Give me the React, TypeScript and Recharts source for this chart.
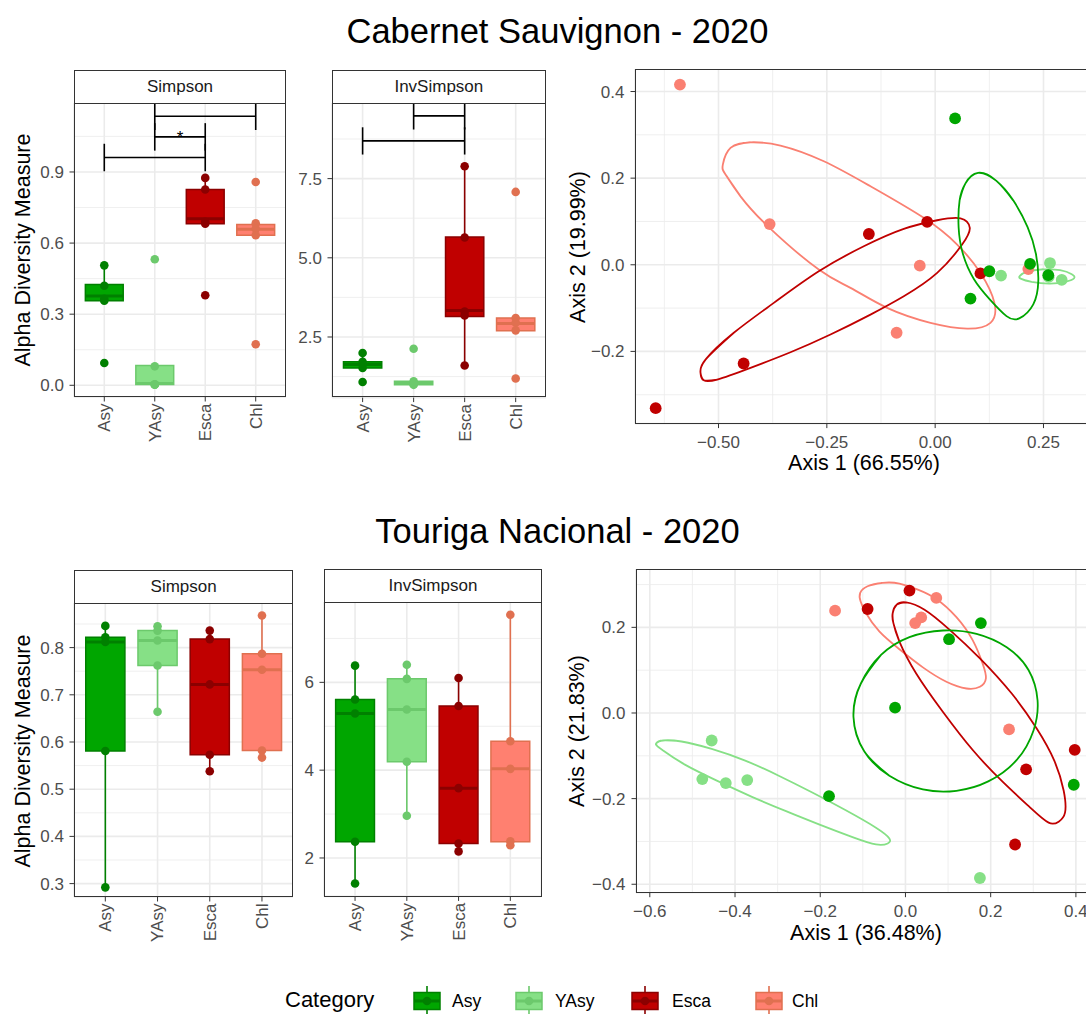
import React from 'react'
import {
  CartesianGrid,
  ComposedChart,
  Line,
  ReferenceArea,
  ReferenceLine,
  Scatter,
  XAxis,
  YAxis,
} from 'recharts'

type Pt = [number, number]

const FONT = '"Liberation Sans", Arial, Helvetica, sans-serif'
const CATS = ['Asy', 'YAsy', 'Esca', 'Chl']
const FILL = ['#00a600', '#86e086', '#c00000', '#ff8070']
const EDGE = ['#008000', '#6cc96c', '#8b0000', '#e07050']
const ORD = ['#00a600', '#86e086', '#c00000', '#fa8072']

// ---- Cabernet Sauvignon 2020, alpha diversity ----
const cabSimpsonPts = [
  [0.506, 0.42, 0.365, 0.357, 0.094],
  [0.532, 0.08, 0.004, 0.003, 0.002],
  [0.875, 0.826, 0.69, 0.682, 0.38],
  [0.858, 0.683, 0.66, 0.633, 0.173],
]
// [lower whisker, q1, median, q3, upper whisker]
const cabSimpsonBox = [
  [0.357, 0.357, 0.377, 0.425, 0.506],
  [0.002, 0.003, 0.008, 0.084, 0.084],
  [0.682, 0.682, 0.703, 0.826, 0.875],
  [0.633, 0.633, 0.658, 0.678, 0.683],
]
// [from, to, height, label]
const cabSimpsonSig: [number, number, number, string][] = [
  [1, 3, 0.961, ''],
  [2, 3, 1.048, '*'],
  [2, 4, 1.135, ''],
]
const cabInvPts = [
  [1.995, 1.72, 1.63, 1.52, 1.08],
  [2.13, 1.1, 1.05, 1.02, 0.99],
  [7.89, 5.64, 3.3, 3.18, 1.6],
  [7.08, 3.1, 2.95, 2.71, 1.19],
]
const cabInvBox = [
  [1.52, 1.52, 1.63, 1.72, 1.995],
  [0.99, 0.99, 1.04, 1.1, 1.1],
  [1.6, 3.15, 3.34, 5.66, 7.89],
  [2.7, 2.7, 2.93, 3.1, 3.1],
]
const cabInvSig: [number, number, number, string][] = [
  [1, 3, 8.69, ''],
  [2, 3, 9.48, ''],
]

// ---- Touriga Nacional 2020, alpha diversity ----
const touSimpsonPts = [
  [0.846, 0.822, 0.812, 0.581, 0.292],
  [0.845, 0.836, 0.815, 0.762, 0.664],
  [0.836, 0.818, 0.722, 0.573, 0.538],
  [0.868, 0.787, 0.753, 0.582, 0.567],
]
const touSimpsonBox = [
  [0.292, 0.581, 0.812, 0.822, 0.846],
  [0.664, 0.762, 0.815, 0.836, 0.845],
  [0.538, 0.573, 0.722, 0.818, 0.836],
  [0.567, 0.582, 0.753, 0.787, 0.868],
]
const touInvPts = [
  [6.38, 5.61, 5.29, 2.37, 1.42],
  [6.4, 6.08, 5.38, 4.19, 2.96],
  [6.1, 5.46, 3.59, 2.33, 2.15],
  [7.54, 4.66, 4.03, 2.38, 2.29],
]
const touInvBox = [
  [1.42, 2.37, 5.29, 5.61, 6.38],
  [2.96, 4.19, 5.38, 6.08, 6.4],
  [2.15, 2.33, 3.59, 5.46, 6.1],
  [2.29, 2.37, 4.03, 4.66, 7.54],
]

// ---- ordination scores (Axis 1, Axis 2) ----
const cabOrdAsy: Pt[] = [[0.046, 0.338], [0.0815, -0.078], [0.125, -0.015], [0.219, 0.002], [0.261, -0.024]]
const cabOrdYAsy: Pt[] = [[0.152, -0.025], [0.265, 0.004], [0.292, -0.035], [0.262, -0.028]]
const cabOrdEsca: Pt[] = [[-0.645, -0.331], [-0.442, -0.228], [-0.153, 0.071], [-0.0185, 0.099], [0.1045, -0.02]]
const cabOrdChl: Pt[] = [[-0.589, 0.416], [-0.382, 0.094], [-0.0355, -0.002], [-0.089, -0.157], [0.215, -0.01]]

const touOrdAsy: Pt[] = [[0.177, 0.21], [0.1023, 0.1723], [-0.0244, 0.0125], [-0.1794, -0.1943], [0.395, -0.1676]]
const touOrdYAsy: Pt[] = [[-0.4548, -0.0642], [-0.4768, -0.1543], [-0.4217, -0.1637], [-0.3714, -0.1567], [0.1747, -0.3854]]
const touOrdEsca: Pt[] = [[-0.0889, 0.2429], [0.0094, 0.2859], [0.2832, -0.1316], [0.3973, -0.0862], [0.2573, -0.3071]]
const touOrdChl: Pt[] = [[-0.1652, 0.2389], [0.0724, 0.2687], [0.037, 0.2233], [0.0228, 0.2099], [0.2431, -0.0384]]

// ---- confidence ellipse outlines ----
const cabEllAsy: Pt[] = [
  [0.0989, 0.2122], [0.1414, 0.1936], [0.1801, 0.1487], [0.2133, 0.0867], [0.2326, 0.0248],
  [0.238, -0.0372], [0.2264, -0.0914], [0.194, -0.1239], [0.1646, -0.1185], [0.126, -0.0798],
  [0.0896, -0.0333], [0.0641, 0.0248], [0.0541, 0.0867], [0.0564, 0.1487], [0.0696, 0.1874],
]
const cabEllYAsy: Pt[] = [
  [0.1955, -0.0256], [0.2148, -0.0155], [0.2496, -0.0108], [0.2883, -0.0124], [0.3153, -0.0217],
  [0.3207, -0.031], [0.3022, -0.0387], [0.2651, -0.0434], [0.2226, -0.0395], [0.1986, -0.0325],
]
const cabEllEsca: Pt[] = [
  [-0.5415, -0.2496], [-0.53, -0.219], [-0.4647, -0.157], [-0.3724, -0.088], [-0.2686, -0.015],
  [-0.1647, 0.0427], [-0.0724, 0.0828], [0.0046, 0.1028], [0.0584, 0.1074], [0.0799, 0.0851],
  [0.0622, 0.0466], [0.0046, -0.0188], [-0.0724, -0.0727], [-0.1493, -0.115], [-0.2416, -0.161],
  [-0.3339, -0.202], [-0.4262, -0.238], [-0.503, -0.265], [-0.534, -0.2666],
]
const cabEllChl: Pt[] = [
  [-0.49, 0.2313], [-0.4723, 0.2698], [-0.4262, 0.2828], [-0.357, 0.2752], [-0.2569, 0.239],
  [-0.1493, 0.1812], [-0.0263, 0.1083], [0.0508, 0.0466], [0.1045, -0.0188], [0.1368, -0.088],
  [0.1276, -0.134], [0.0738, -0.1473], [-0.0108, -0.134], [-0.1108, -0.0995], [-0.1954, -0.0533],
  [-0.2686, -0.011], [-0.3823, 0.0851], [-0.4492, 0.158], [-0.4838, 0.2082],
]

const touEllAsy: Pt[] = [
  [-0.122, -0.0094], [-0.1046, 0.0689], [-0.0574, 0.1355], [0.0094, 0.177], [0.0881, 0.1927],
  [0.1668, 0.1849], [0.2376, 0.1535], [0.2888, 0.1003], [0.31, 0.0298], [0.3006, -0.0407],
  [0.2612, -0.1097], [0.1943, -0.1598], [0.1196, -0.1817], [0.0409, -0.1786], [-0.0378, -0.1465],
  [-0.0968, -0.0893],
]
const touEllYAsy: Pt[] = [
  [-0.5846, -0.0705], [-0.5688, -0.0642], [-0.5256, -0.0666], [-0.4548, -0.0838], [-0.3761, -0.1112],
  [-0.2974, -0.1465], [-0.2187, -0.1857], [-0.14, -0.2272], [-0.0692, -0.2679], [-0.0378, -0.293],
  [-0.0417, -0.3047], [-0.0692, -0.3071], [-0.1243, -0.2899], [-0.203, -0.2601], [-0.2817, -0.2287],
  [-0.3603, -0.1958], [-0.439, -0.1598], [-0.5177, -0.1206], [-0.5688, -0.0877], [-0.583, -0.0768],
]
const touEllEsca: Pt[] = [
  [-0.0299, 0.2334], [-0.0205, 0.253], [0.0016, 0.2585], [0.0448, 0.2413], [0.1039, 0.1943],
  [0.1747, 0.1277], [0.2494, 0.0454], [0.3084, -0.0368], [0.3493, -0.1112], [0.3714, -0.1817],
  [0.3745, -0.2327], [0.3596, -0.2538], [0.336, -0.2562], [0.2927, -0.2209], [0.2297, -0.1622],
  [0.1589, -0.0877], [0.0881, 0.0024], [0.0252, 0.0924], [-0.0142, 0.1669], [-0.0283, 0.2099],
]
const touEllChl: Pt[] = [
  [-0.1062, 0.2805], [-0.0889, 0.2961], [-0.0535, 0.304], [-0.0142, 0.3024], [0.0291, 0.2883],
  [0.0724, 0.2664], [0.1196, 0.224], [0.1574, 0.1708], [0.181, 0.1159], [0.1888, 0.0807],
  [0.1747, 0.0611], [0.1432, 0.0572], [0.096, 0.0729], [0.0409, 0.1065], [-0.0142, 0.1488],
  [-0.0614, 0.1904], [-0.0928, 0.2334], [-0.1054, 0.2609],
]

const rows = (pts: Pt[]) => pts.map(([x, y]) => ({ x, y }))
// wrap the outline round by two read points at each end so the spline joins smoothly
const closed = (pts: Pt[]) => {
  const n = pts.length
  return rows([pts[n - 2], pts[n - 1], ...pts, pts[0], pts[1], pts[2]])
}
const fmt = (d: number) => (v: number) => v.toFixed(d).replace('-', '\u2212')

const TICK = { fill: '#4d4d4d', fontSize: 17, fontFamily: FONT }
const MAJOR = '#ebebeb'

function CatTick(props: any) {
  const { x, y, payload } = props
  return (
    <text
      transform={`translate(${x},${y}) rotate(-90)`}
      textAnchor="end"
      dy="0.35em"
      fill="#4d4d4d"
      fontSize={17}
      fontFamily={FONT}
    >
      {CATS[payload.value - 1]}
    </text>
  )
}

function Frame({ left, top, width, height }: { left: number; top: number; width: number; height: number }) {
  return (
    <div
      style={{
        position: 'absolute', left, top, width, height, boxSizing: 'border-box',
        border: '1px solid #333', pointerEvents: 'none',
      }}
    />
  )
}

function VLabel({ cx, cy, text }: { cx: number; cy: number; text: string }) {
  return (
    <div
      style={{
        position: 'absolute', left: cx - 150, top: cy - 11, width: 300, height: 22,
        lineHeight: '22px', fontSize: 21.5, textAlign: 'center', whiteSpace: 'nowrap',
        transform: 'rotate(-90deg)',
      }}
    >
      {text}
    </div>
  )
}

function HLabel({ cx, top, text, size = 21.5 }: { cx: number; top: number; text: string; size?: number }) {
  return (
    <div
      style={{
        position: 'absolute', left: cx - 300, top, width: 600, lineHeight: 1,
        fontSize: size, textAlign: 'center', whiteSpace: 'nowrap',
      }}
    >
      {text}
    </div>
  )
}

interface BoxPanelProps {
  title: string
  left: number
  top: number
  width: number
  height: number
  domain: [number, number]
  ticks: number[]
  minor: number[]
  digits: number
  pts: number[][]
  box: number[][]
  sig?: [number, number, number, string][]
  tip?: number
}

function BoxPanel(p: BoxPanelProps) {
  const YW = 60
  const XH = 70
  const half = 0.375
  const tip = p.tip ?? 0
  return (
    <>
      <div style={{ position: 'absolute', left: p.left - YW, top: p.top }}>
        <ComposedChart width={YW + p.width} height={p.height + XH} margin={{ top: 0, right: 0, bottom: 0, left: 0 }}>
          <CartesianGrid stroke={MAJOR} strokeWidth={1.6} />
          <CartesianGrid stroke={MAJOR} strokeWidth={0.8} vertical={false} horizontalValues={p.minor} />
          <XAxis
            type="number" dataKey="x" domain={[0.4, 4.6]} ticks={[1, 2, 3, 4]} allowDataOverflow
            height={XH} axisLine={false} tickSize={4.5} tickLine={{ stroke: '#333' }}
            tick={<CatTick />} interval={0}
          />
          <YAxis
            type="number" dataKey="y" domain={p.domain} ticks={p.ticks} allowDataOverflow
            width={YW} axisLine={false} tickSize={4.5} tickMargin={5.5} tickLine={{ stroke: '#333' }}
            tick={TICK} tickFormatter={fmt(p.digits)} interval={0}
          />
          {p.box.map(([, q1, , q3], i) => (
            <ReferenceArea
              key={'box' + i} x1={i + 1 - half} x2={i + 1 + half} y1={q1} y2={q3}
              fill={FILL[i]} fillOpacity={1} stroke={EDGE[i]} strokeWidth={1.5} ifOverflow="visible"
            />
          ))}
          {p.box.flatMap(([lo, q1, med, q3, hi], i) => [
            hi > q3 && (
              <ReferenceLine key={'hi' + i} segment={[{ x: i + 1, y: q3 }, { x: i + 1, y: hi }]} stroke={EDGE[i]} strokeWidth={1.6} ifOverflow="visible" />
            ),
            lo < q1 && (
              <ReferenceLine key={'lo' + i} segment={[{ x: i + 1, y: lo }, { x: i + 1, y: q1 }]} stroke={EDGE[i]} strokeWidth={1.6} ifOverflow="visible" />
            ),
            <ReferenceLine key={'med' + i} segment={[{ x: i + 1 - half, y: med }, { x: i + 1 + half, y: med }]} stroke={EDGE[i]} strokeWidth={3} ifOverflow="visible" />,
          ])}
          {(p.sig ?? []).flatMap(([a, b, y, lab], k) => [
            <ReferenceLine
              key={'sh' + k} segment={[{ x: a, y }, { x: b, y }]} stroke="#000" strokeWidth={1.6} ifOverflow="visible"
              label={lab ? { value: lab, position: 'center', fill: '#000', fontSize: 17, fontFamily: FONT } : undefined}
            />,
            <ReferenceLine key={'sa' + k} segment={[{ x: a, y: y - tip }, { x: a, y: y + tip }]} stroke="#000" strokeWidth={1.6} ifOverflow="visible" />,
            <ReferenceLine key={'sb' + k} segment={[{ x: b, y: y - tip }, { x: b, y: y + tip }]} stroke="#000" strokeWidth={1.6} ifOverflow="visible" />,
          ])}
          {p.pts.map((vals, i) => (
            <Scatter
              key={'pt' + i}
              data={vals.map((v) => ({ x: i + 1, y: v }))}
              isAnimationActive={false}
              shape={(s: any) => <circle cx={s.cx} cy={s.cy} r={4.3} fill={EDGE[i]} />}
            />
          ))}
        </ComposedChart>
      </div>
      <Frame left={p.left} top={p.top} width={p.width} height={p.height} />
      <div
        style={{
          position: 'absolute', left: p.left, top: p.top - 33, width: p.width, height: 34,
          boxSizing: 'border-box', border: '1px solid #333', background: '#fff',
          fontSize: 17, color: '#1a1a1a', display: 'flex', alignItems: 'center', justifyContent: 'center',
        }}
      >
        {p.title}
      </div>
    </>
  )
}

interface OrdPanelProps {
  left: number
  top: number
  width: number
  height: number
  xDomain: [number, number]
  yDomain: [number, number]
  xTicks: number[]
  yTicks: number[]
  xMinor: number[]
  yMinor: number[]
  xDigits: number
  pts: Pt[][]
  ells: Pt[][]
}

function OrdPanel(p: OrdPanelProps) {
  const YW = 55
  const XH = 40
  const order = [3, 2, 1, 0]
  return (
    <>
      <div style={{ position: 'absolute', left: p.left - YW, top: p.top }}>
        <ComposedChart width={YW + p.width} height={p.height + XH} margin={{ top: 0, right: 0, bottom: 0, left: 0 }}>
          <CartesianGrid stroke={MAJOR} strokeWidth={1.6} />
          <CartesianGrid stroke={MAJOR} strokeWidth={0.8} horizontalValues={p.yMinor} verticalValues={p.xMinor} />
          <XAxis
            type="number" dataKey="x" domain={p.xDomain} ticks={p.xTicks} allowDataOverflow
            height={XH} axisLine={false} tickSize={4.5} tickMargin={7.5} tickLine={{ stroke: '#333' }}
            tick={TICK} tickFormatter={fmt(p.xDigits)} interval={0}
          />
          <YAxis
            type="number" dataKey="y" domain={p.yDomain} ticks={p.yTicks} allowDataOverflow
            width={YW} axisLine={false} tickSize={4.5} tickMargin={6} tickLine={{ stroke: '#333' }}
            tick={TICK} tickFormatter={fmt(1)} interval={0}
          />
          {order.map((i) => (
            <Scatter
              key={'pt' + i}
              data={rows(p.pts[i])}
              isAnimationActive={false}
              shape={(s: any) => <circle cx={s.cx} cy={s.cy} r={5.9} fill={ORD[i]} />}
            />
          ))}
          {order.map((i) => (
            <Line
              key={'ell' + i}
              data={closed(p.ells[i])}
              dataKey="y"
              type="natural"
              stroke={ORD[i]}
              strokeWidth={1.8}
              dot={false}
              activeDot={false}
              isAnimationActive={false}
            />
          ))}
        </ComposedChart>
      </div>
      <Frame left={p.left} top={p.top} width={p.width} height={p.height} />
    </>
  )
}

function LegendKey({ left, i }: { left: number; i: number }) {
  return (
    <svg style={{ position: 'absolute', left, top: 986 }} width={28} height={28}>
      <line x1={14} x2={14} y1={0} y2={28} stroke={EDGE[i]} strokeWidth={1.6} />
      <rect x={1} y={6.5} width={26} height={17} fill={FILL[i]} stroke={EDGE[i]} strokeWidth={1.5} />
      <line x1={1} x2={27} y1={15} y2={15} stroke={EDGE[i]} strokeWidth={3} />
      <circle cx={14} cy={15} r={4.3} fill={EDGE[i]} />
    </svg>
  )
}

export default function App() {
  const keyLeft = [413, 515, 631, 755]
  const labelLeft = [452, 555, 672, 792]
  return (
    <div
      style={{
        position: 'absolute', left: 0, top: 0, width: 1086, height: 1014, overflow: 'hidden',
        background: '#fff', fontFamily: FONT, color: '#000',
      }}
    >
      <HLabel cx={557.5} top={13.5} size={34.5} text="Cabernet Sauvignon - 2020" />
      <HLabel cx={557.5} top={513.5} size={34.5} text="Touriga Nacional - 2020" />

      <BoxPanel
        title="Simpson" left={74} top={102.7} width={212} height={294}
        domain={[-0.0494, 1.191]} ticks={[0, 0.3, 0.6, 0.9]} minor={[0.15, 0.45, 0.75, 1.05]} digits={1}
        pts={cabSimpsonPts} box={cabSimpsonBox} sig={cabSimpsonSig} tip={0.058}
      />
      <BoxPanel
        title="InvSimpson" left={331.7} top={102.7} width={214.3} height={294.6}
        domain={[0.587, 9.887]} ticks={[2.5, 5, 7.5]} minor={[1.25, 3.75, 6.25, 8.75]} digits={1}
        pts={cabInvPts} box={cabInvBox} sig={cabInvSig} tip={0.43}
      />
      <OrdPanel
        left={634.5} top={69.4} width={460.5} height={354.6}
        xDomain={[-0.6927, 0.37]} yDomain={[-0.3667, 0.452]}
        xTicks={[-0.5, -0.25, 0, 0.25]} yTicks={[-0.2, 0, 0.2, 0.4]}
        xMinor={[-0.625, -0.375, -0.125, 0.125]} yMinor={[-0.3, -0.1, 0.1, 0.3]} xDigits={2}
        pts={[cabOrdAsy, cabOrdYAsy, cabOrdEsca, cabOrdChl]}
        ells={[cabEllAsy, cabEllYAsy, cabEllEsca, cabEllChl]}
      />
      <VLabel cx={23} cy={250} text="Alpha Diversity Measure" />
      <VLabel cx={577.5} cy={246.7} text="Axis 2 (19.99%)" />
      <HLabel cx={864} top={453.3} text="Axis 1 (66.55%)" />

      <BoxPanel
        title="Simpson" left={74} top={602.7} width={219.3} height={294}
        domain={[0.2716, 0.8945]} ticks={[0.3, 0.4, 0.5, 0.6, 0.7, 0.8]}
        minor={[0.35, 0.45, 0.55, 0.65, 0.75, 0.85]} digits={1}
        pts={touSimpsonPts} box={touSimpsonBox}
      />
      <BoxPanel
        title="InvSimpson" left={324.3} top={602.3} width={217.4} height={294.4}
        domain={[1.125, 7.83]} ticks={[2, 4, 6]} minor={[3, 5, 7]} digits={0}
        pts={touInvPts} box={touInvBox}
      />
      <OrdPanel
        left={635.5} top={569.4} width={459.5} height={323.7}
        xDomain={[-0.6324, 0.446]} yDomain={[-0.4197, 0.3363]}
        xTicks={[-0.6, -0.4, -0.2, 0, 0.2, 0.4]} yTicks={[-0.4, -0.2, 0, 0.2]}
        xMinor={[-0.5, -0.3, -0.1, 0.1, 0.3]} yMinor={[-0.3, -0.1, 0.1, 0.3]} xDigits={1}
        pts={[touOrdAsy, touOrdYAsy, touOrdEsca, touOrdChl]}
        ells={[touEllAsy, touEllYAsy, touEllEsca, touEllChl]}
      />
      <VLabel cx={23} cy={751} text="Alpha Diversity Measure" />
      <VLabel cx={577} cy={731.3} text="Axis 2 (21.83%)" />
      <HLabel cx={866} top={922.5} text="Axis 1 (36.48%)" />

      <div style={{ position: 'absolute', left: 285, top: 989.4, fontSize: 22, lineHeight: 1 }}>Category</div>
      {CATS.map((c, i) => (
        <React.Fragment key={c}>
          <LegendKey left={keyLeft[i]} i={i} />
          <div style={{ position: 'absolute', left: labelLeft[i], top: 992.5, fontSize: 17.5, lineHeight: 1 }}>{c}</div>
        </React.Fragment>
      ))}
    </div>
  )
}
